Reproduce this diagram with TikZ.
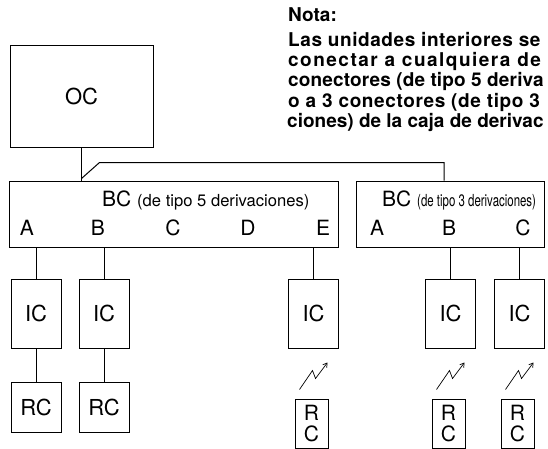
\documentclass[tikz,border=0pt]{standalone}
\usepackage{fontspec}
\setmainfont{TeX Gyre Heros}
\usetikzlibrary{positioning,arrows.meta}

\begin{document}
\begin{tikzpicture}[
	x=1pt, y=-1pt,
	box/.style={draw, line width=1pt, inner sep=0pt},
	ocnode/.style={box, minimum width=143pt, minimum height=102pt, font=\fontsize{22}{22}\selectfont},
	bcnode/.style={box, minimum height=66pt},
	icnode/.style={box, minimum width=50pt, minimum height=69pt, font=\fontsize{22}{22}\selectfont},
	rcnode/.style={box, minimum width=50pt, minimum height=50pt, font=\fontsize{22}{22}\selectfont},
	rcsmall/.style={box, minimum width=33pt, minimum height=49pt, align=center, font=\fontsize{21}{21}\selectfont},
	portlabel/.style={anchor=base, inner sep=0pt, font=\fontsize{21}{21}\selectfont},
	notaline/.style={anchor=base west, inner sep=0pt, font=\bfseries\fontsize{19}{19}\selectfont},
	wire/.style={line width=1pt},
	wireless/.style={line width=0.7pt, -{Straight Barb[length=4pt,width=5pt]}},
	]
	\useasboundingbox (0,0) rectangle (548,448);
	%Nota
	\node[notaline] (nota) at (288,21) {Nota:};
	\node[notaline] (l1) at (288,46) {\addfontfeature{LetterSpace=3}Las unidades interiores se};
	\node[notaline] (l2) at (288,66) {\addfontfeature{LetterSpace=7.8}conectar a cualquiera de};
	\node[notaline] (l3) at (288,86.5) {\addfontfeature{LetterSpace=0.8}conectores (de tipo 5 deriva};
	\node[notaline] (l4) at (288,107) {\addfontfeature{LetterSpace=3.2}o a 3 conectores (de tipo 3};
	\node[notaline] (l5) at (287,127) {\addfontfeature{LetterSpace=0}ciones) de la caja de derivac};
	
	%Nodes
	\node[ocnode] (oc) at (81.5,96) {OC};
	\node[bcnode, minimum width=329pt] (bc5) at (173.5,214) {};
	\node[bcnode, minimum width=188pt] (bc3) at (450,214) {};
	\node[anchor=base west, inner sep=0pt] (t5) at (102,206) {\fontsize{21}{21}\selectfont BC \fontsize{16.6}{16.6}\selectfont(de tipo 5 derivaciones)};
	\node[anchor=base west, inner sep=0pt] (t3) at (382,206) {\fontsize{21}{21}\selectfont BC \scalebox{0.69}[1]{\fontsize{16.6}{16.6}\selectfont(de tipo 3 derivaciones)}};
	\node[portlabel] (a5) at (27,235) {A};
	\node[portlabel] (b5) at (98,235) {B};
	\node[portlabel] (c5) at (173,235) {C};
	\node[portlabel] (d5) at (248,235) {D};
	\node[portlabel] (e5) at (323,235) {E};
	\node[portlabel] (a3) at (377,235) {A};
	\node[portlabel] (b3) at (449,235) {B};
	\node[portlabel] (c3) at (523,235) {C};
	
	\node[icnode] (ic1) at (36,313.5) {IC};
	\node[icnode] (ic2) at (104,313.5) {IC};
	\node[icnode] (ic3) at (313.5,313.5) {IC};
	\node[icnode] (ic4) at (450.5,313.5) {IC};
	\node[icnode] (ic5) at (519.5,313.5) {IC};
	\node[rcnode, below=33pt of ic1] (rc1) {RC};
	\node[rcnode, below=33pt of ic2] (rc2) {RC};
	\node[rcsmall, below=50pt of ic3, xshift=-2pt] (rc3) {R\\C};
	\node[rcsmall, below=50pt of ic4, xshift=-2pt] (rc4) {R\\C};
	\node[rcsmall, below=50pt of ic5, xshift=-2pt] (rc5) {R\\C};
	
	%Lines
	\draw[wire] (oc.south) -- (oc.south |- bc5.north);
	\draw[wire] ([yshift=2pt]oc.south |- bc5.north) -- ++(18,-16) -| ([xshift=-6pt]bc3.north);
	\draw[wire] (ic1.north) -- (ic1.north |- bc5.south);
	\draw[wire] (ic2.north) -- (ic2.north |- bc5.south);
	\draw[wire] (ic3.north) -- (ic3.north |- bc5.south);
	\draw[wire] (ic4.north) -- (ic4.north |- bc3.south);
	\draw[wire] (ic5.north) -- (ic5.north |- bc3.south);
	\draw[wire] (ic1) -- (rc1);
	\draw[wire] (ic2) -- (rc2);
	\draw[wireless] ([shift={(-12pt,9pt)}]rc3.north) -- ++(13,-19) -- ++(3,8) -- ++(12,-16);
	\draw[wireless] ([shift={(-12pt,9pt)}]rc4.north) -- ++(13,-19) -- ++(3,8) -- ++(12,-16);
	\draw[wireless] ([shift={(-12pt,9pt)}]rc5.north) -- ++(13,-19) -- ++(3,8) -- ++(12,-16);
\end{tikzpicture}
\end{document}
